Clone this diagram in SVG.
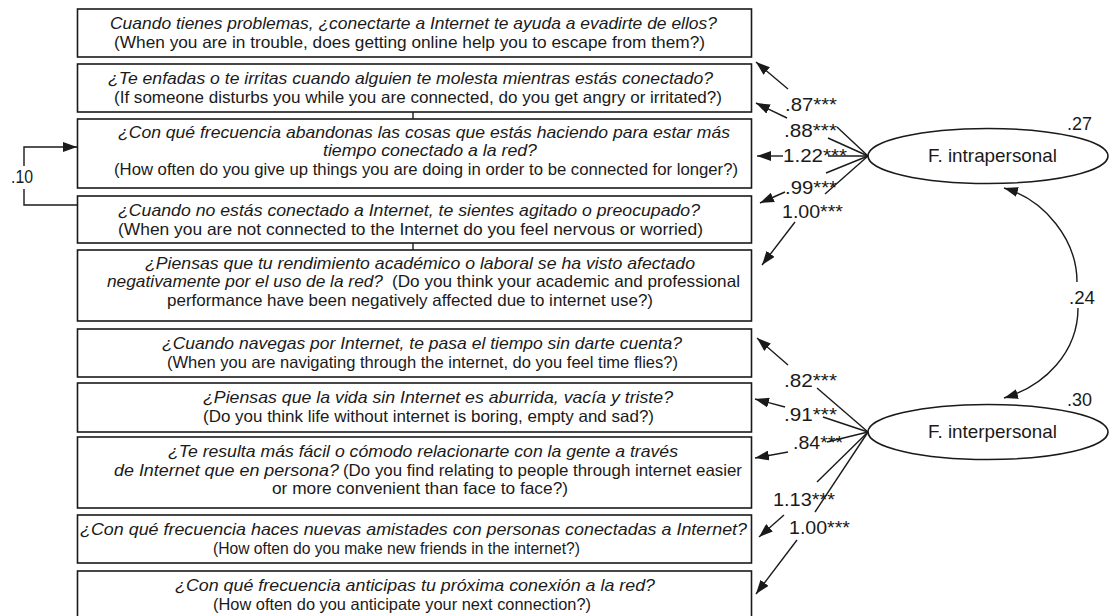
<svg xmlns="http://www.w3.org/2000/svg" width="1110" height="616" viewBox="0 0 1110 616">
<defs>
<style>
.box{fill:#fff;stroke:#1a1a1a;stroke-width:1.6}
.t{font-family:"Liberation Sans",Arial,sans-serif;font-size:16.5px;fill:#1a1a1a}
.i{font-style:italic}
.lb{font-family:"Liberation Sans",Arial,sans-serif;font-size:19px;fill:#1a1a1a}
.ln{fill:none;stroke:#1a1a1a;stroke-width:1.4}
.el{fill:#fff;stroke:#1a1a1a;stroke-width:1.6}
</style>
<marker id="ah" viewBox="0 0 14 10" refX="14" refY="5" markerWidth="14" markerHeight="10" markerUnits="userSpaceOnUse" orient="auto">
<path d="M0,0 L14,5 L0,10 z" fill="#1a1a1a"/>
</marker>
</defs>
<rect width="1110" height="616" fill="#fff"/>

<g id="box1">
<rect class="box" x="77.5" y="9" width="674" height="48"/>
<text class="t i" x="110" y="29" textLength="607" lengthAdjust="spacingAndGlyphs">Cuando tienes problemas, ¿conectarte a Internet te ayuda a evadirte de ellos?</text>
<text class="t" x="114" y="47.5" textLength="591" lengthAdjust="spacingAndGlyphs">(When you are in trouble, does getting online help you to escape from them?)</text>
</g>
<g id="box2">
<rect class="box" x="77.5" y="64" width="674" height="48"/>
<text class="t i" x="108" y="84" textLength="605" lengthAdjust="spacingAndGlyphs">¿Te enfadas o te irritas cuando alguien te molesta mientras estás conectado?</text>
<text class="t" x="114" y="102.5" textLength="608" lengthAdjust="spacingAndGlyphs">(If someone disturbs you while you are connected, do you get angry or irritated?)</text>
</g>
<g id="box3">
<rect class="box" x="77.5" y="119" width="674" height="69"/>
<text class="t i" x="118" y="137.5" textLength="612" lengthAdjust="spacingAndGlyphs">¿Con qué frecuencia abandonas las cosas que estás haciendo para estar más</text>
<text class="t i" x="323" y="156" textLength="214" lengthAdjust="spacingAndGlyphs">tiempo conectado a la red?</text>
<text class="t" x="114" y="174.5" textLength="624" lengthAdjust="spacingAndGlyphs">(How often do you give up things you are doing in order to be connected for longer?)</text>
</g>
<g id="box4">
<rect class="box" x="77.5" y="196" width="674" height="47"/>
<text class="t i" x="118" y="216" textLength="582" lengthAdjust="spacingAndGlyphs">¿Cuando no estás conectado a Internet, te sientes agitado o preocupado?</text>
<text class="t" x="118" y="234.5" textLength="585" lengthAdjust="spacingAndGlyphs">(When you are not connected to the Internet do you feel nervous or worried)</text>
</g>
<g id="box5">
<rect class="box" x="77.5" y="250" width="674" height="71"/>
<text class="t i" x="145" y="268.5" textLength="550" lengthAdjust="spacingAndGlyphs">¿Piensas que tu rendimiento académico o laboral se ha visto afectado</text>
<text class="t i" x="107" y="287" textLength="276" lengthAdjust="spacingAndGlyphs">negativamente por el uso de la red?</text>
<text class="t" x="392" y="287" textLength="348" lengthAdjust="spacingAndGlyphs">(Do you think your academic and professional</text>
<text class="t" x="167" y="305.5" textLength="486" lengthAdjust="spacingAndGlyphs">performance have been negatively affected due to internet use?)</text>
</g>
<g id="box6">
<rect class="box" x="77.5" y="329" width="674" height="48"/>
<text class="t i" x="162" y="349" textLength="520" lengthAdjust="spacingAndGlyphs">¿Cuando navegas por Internet, te pasa el tiempo sin darte cuenta?</text>
<text class="t" x="167" y="367.5" textLength="511" lengthAdjust="spacingAndGlyphs">(When you are navigating through the internet, do you feel time flies?)</text>
</g>
<g id="box7">
<rect class="box" x="77.5" y="383" width="674" height="49"/>
<text class="t i" x="203" y="403" textLength="470" lengthAdjust="spacingAndGlyphs">¿Piensas que la vida sin Internet es aburrida, vacía y triste?</text>
<text class="t" x="203" y="421.5" textLength="451" lengthAdjust="spacingAndGlyphs">(Do you think life without internet is boring, empty and sad?)</text>
</g>
<g id="box8">
<rect class="box" x="77.5" y="437" width="674" height="71"/>
<text class="t i" x="168" y="457" textLength="510" lengthAdjust="spacingAndGlyphs">¿Te resulta más fácil o cómodo relacionarte con la gente a través</text>
<text class="t i" x="114" y="475.5" textLength="225" lengthAdjust="spacingAndGlyphs">de Internet que en persona?</text>
<text class="t" x="343" y="475.5" textLength="399" lengthAdjust="spacingAndGlyphs">(Do you find relating to people through internet easier</text>
<text class="t" x="272" y="494" textLength="296" lengthAdjust="spacingAndGlyphs">or more convenient than face to face?)</text>
</g>
<g id="box9">
<rect class="box" x="77.5" y="515" width="674" height="48"/>
<text class="t i" x="80" y="535" textLength="667" lengthAdjust="spacingAndGlyphs">¿Con qué frecuencia haces nuevas amistades con personas conectadas a Internet?</text>
<text class="t" x="213" y="553.5" textLength="367" lengthAdjust="spacingAndGlyphs">(How often do you make new friends in the internet?)</text>
</g>
<g id="box10">
<rect class="box" x="77.5" y="571" width="674" height="50"/>
<text class="t i" x="175" y="591" textLength="480" lengthAdjust="spacingAndGlyphs">¿Con qué frecuencia anticipas tu próxima conexión a la red?</text>
<text class="t" x="213" y="609.5" textLength="378" lengthAdjust="spacingAndGlyphs">(How often do you anticipate your next connection?)</text>
</g>

<g id="f-intrapersonal">
<ellipse class="el" cx="988" cy="156" rx="120" ry="27.5"/>
<text class="lb" x="928" y="162" textLength="129" lengthAdjust="spacingAndGlyphs">F. intrapersonal</text>
<text class="lb" x="1067" y="130" textLength="25" lengthAdjust="spacingAndGlyphs">.27</text>
</g>
<g id="f-interpersonal">
<ellipse class="el" cx="988" cy="432" rx="120" ry="27.5"/>
<text class="lb" x="928" y="438" textLength="129" lengthAdjust="spacingAndGlyphs">F. interpersonal</text>
<text class="lb" x="1067" y="406" textLength="25" lengthAdjust="spacingAndGlyphs">.30</text>
</g>

<g id="connectors">
<line class="ln" x1="413" y1="112" x2="413" y2="119"/>
<line class="ln" x1="413" y1="243" x2="413" y2="250"/>
<path class="ln" d="M77.5,205 H24 V189"/>
<path class="ln" d="M24,166 V147 H77" marker-end="url(#ah)"/>
<path class="ln" d="M1077,282 C1077,240 1045,200 1004,188" marker-end="url(#ah)"/>
<path class="ln" d="M1078,308 C1078,352 1045,386 1004,398" marker-end="url(#ah)"/>
<line class="ln" x1="868" y1="156" x2="837" y2="127"/>
<line class="ln" x1="788" y1="89" x2="756" y2="62" marker-end="url(#ah)"/>
<line class="ln" x1="868" y1="156" x2="828" y2="138"/>
<line class="ln" x1="787" y1="118" x2="756" y2="103" marker-end="url(#ah)"/>
<line class="ln" x1="868" y1="156" x2="828" y2="156"/>
<line class="ln" x1="783" y1="156" x2="757" y2="156" marker-end="url(#ah)"/>
<line class="ln" x1="868" y1="156" x2="826" y2="173"/>
<line class="ln" x1="785" y1="192" x2="760" y2="203" marker-end="url(#ah)"/>
<line class="ln" x1="868" y1="156" x2="825" y2="194"/>
<line class="ln" x1="795" y1="222" x2="762" y2="265" marker-end="url(#ah)"/>
<line class="ln" x1="868" y1="432" x2="817" y2="388"/>
<line class="ln" x1="788" y1="365" x2="757" y2="338" marker-end="url(#ah)"/>
<line class="ln" x1="868" y1="432" x2="823" y2="417"/>
<line class="ln" x1="785" y1="407" x2="755" y2="399" marker-end="url(#ah)"/>
<line class="ln" x1="868" y1="432" x2="827" y2="442"/>
<line class="ln" x1="788" y1="452" x2="755" y2="458" marker-end="url(#ah)"/>
<line class="ln" x1="868" y1="432" x2="817" y2="482"/>
<line class="ln" x1="784" y1="515" x2="759" y2="537" marker-end="url(#ah)"/>
<line class="ln" x1="868" y1="432" x2="815" y2="512"/>
<line class="ln" x1="797" y1="540" x2="756" y2="594" marker-end="url(#ah)"/>
</g>

<g id="labels">
<text class="lb" x="11" y="183" textLength="22" lengthAdjust="spacingAndGlyphs">.10</text>
<text class="lb" x="1069" y="304" textLength="26" lengthAdjust="spacingAndGlyphs">.24</text>
<text class="lb" x="785" y="111" textLength="52" lengthAdjust="spacingAndGlyphs">.87***</text>
<text class="lb" x="784" y="137" textLength="53" lengthAdjust="spacingAndGlyphs">.88***</text>
<text class="lb" x="783" y="162" textLength="64" lengthAdjust="spacingAndGlyphs">1.22***</text>
<text class="lb" x="785" y="194" textLength="52" lengthAdjust="spacingAndGlyphs">.99***</text>
<text class="lb" x="782" y="218" textLength="61" lengthAdjust="spacingAndGlyphs">1.00***</text>
<text class="lb" x="784" y="387" textLength="53" lengthAdjust="spacingAndGlyphs">.82***</text>
<text class="lb" x="784" y="421" textLength="53" lengthAdjust="spacingAndGlyphs">.91***</text>
<text class="lb" x="793" y="449" textLength="50" lengthAdjust="spacingAndGlyphs">.84***</text>
<text class="lb" x="773" y="506" textLength="62" lengthAdjust="spacingAndGlyphs">1.13***</text>
<text class="lb" x="789" y="534" textLength="61" lengthAdjust="spacingAndGlyphs">1.00***</text>
</g>
</svg>
